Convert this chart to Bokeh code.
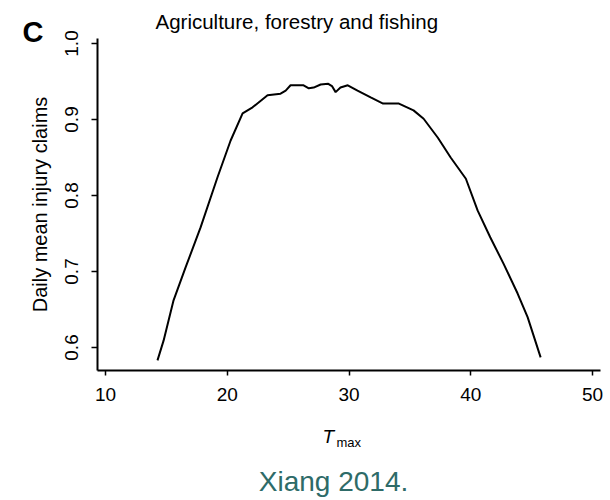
from bokeh.plotting import figure
from bokeh.models import Label, Range1d, FixedTicker, PrintfTickFormatter, Title
from bokeh.embed import file_html
from bokeh.resources import INLINE

# ---- data ----
tmax = [14.27, 14.77, 15.59, 16.57, 17.81, 19.2, 20.27, 21.26, 22.08, 23.31,
        24.38, 24.8, 25.2, 26.27, 26.7, 27.1, 27.67, 28.3, 28.6, 28.9,
        29.3, 29.9, 30.7, 31.78, 32.8, 34.1, 35.3, 36.13, 37.3, 38.35,
        39.6, 40.57, 41.6, 42.7, 43.85, 44.67, 45.74]
claims = [0.583, 0.609, 0.662, 0.705, 0.758, 0.824, 0.872, 0.908, 0.916, 0.932,
          0.934, 0.938, 0.945, 0.945, 0.941, 0.942, 0.946, 0.947, 0.944, 0.936,
          0.942, 0.945, 0.938, 0.929, 0.921, 0.921, 0.912, 0.901, 0.876, 0.850,
          0.822, 0.780, 0.745, 0.710, 0.671, 0.640, 0.587]
x_ticks = [10, 20, 30, 40, 50]
y_ticks = [0.6, 0.7, 0.8, 0.9, 1.0]
title_text = "Agriculture, forestry and fishing"
panel_letter = "C"
y_title = "Daily mean injury claims"
x_title_main = "T"
x_title_sub = "max"
caption = "Xiang 2014."

FONT = "Liberation Sans"
W, H = 610, 500
L, R, T, B = 97, 600, 38, 370
X0, X1 = 9.343, 50.657
Y0, Y1 = 0.5697, 1.00658

p = figure(width=W, height=H, output_backend="svg", toolbar_location=None,
           x_range=Range1d(X0, X1), y_range=Range1d(Y0, Y1),
           min_border_left=L, min_border_right=W - R,
           min_border_top=T, min_border_bottom=H - B)
p.outline_line_color = None
p.xgrid.visible = False
p.ygrid.visible = False
p.background_fill_color = "white"
p.border_fill_color = "white"

p.line(tmax, claims, line_color="black", line_width=2)

for ax in (p.xaxis[0], p.yaxis[0]):
    ax.axis_line_color = "black"
    ax.axis_line_width = 2
    ax.major_tick_line_color = "black"
    ax.major_tick_line_width = 1.5
    ax.minor_tick_line_color = None
    ax.major_tick_in = 0
    ax.major_label_text_font = FONT
    ax.major_label_text_font_size = "19px"
    ax.major_label_text_color = "black"

p.xaxis.ticker = FixedTicker(ticks=x_ticks)
p.yaxis.ticker = FixedTicker(ticks=y_ticks)
p.yaxis.formatter = PrintfTickFormatter(format="%.1f")
p.xaxis.major_tick_out = 5
p.yaxis.major_tick_out = 6
p.xaxis.major_label_standoff = 12
p.yaxis.major_label_standoff = 13
p.yaxis.major_label_orientation = "vertical"
p.yaxis.axis_label = y_title
p.yaxis.axis_label_text_font = FONT
p.yaxis.axis_label_text_font_size = "20px"
p.yaxis.axis_label_text_font_style = "normal"
p.yaxis.axis_label_text_color = "black"
p.yaxis.axis_label_standoff = 12

# title above the frame
p.add_layout(Title(text=title_text, align="left", offset=58, standoff=11,
                   text_font=FONT, text_font_size="20.5px",
                   text_font_style="normal", text_color="black"), "above")


def dx(fx):
    return X0 + (fx - L) * (X1 - X0) / (R - L)


def dy(fy):
    return Y1 - (fy - T) * (Y1 - Y0) / (B - T)


def lab(side, text, fx, fy, size, style="normal", align="left", color="black"):
    # fy is the wanted baseline; the label is anchored near the glyph middle
    shift = 0.38 * float(size.rstrip("px"))
    p.add_layout(Label(x=dx(fx), y=dy(fy - shift), text=text, text_font=FONT,
                       text_font_size=size, text_font_style=style,
                       text_align=align, text_baseline="alphabetic",
                       text_color=color), side)


lab("left", panel_letter, 22, 43, "29px", style="bold")
lab("below", x_title_main, 322, 443, "19px", style="italic")
lab("below", x_title_sub, 336, 447, "13px")
lab("below", caption, 333, 492, "28px", align="center", color="#2e6b68")

open("out.html", "w").write(file_html(p, INLINE))
